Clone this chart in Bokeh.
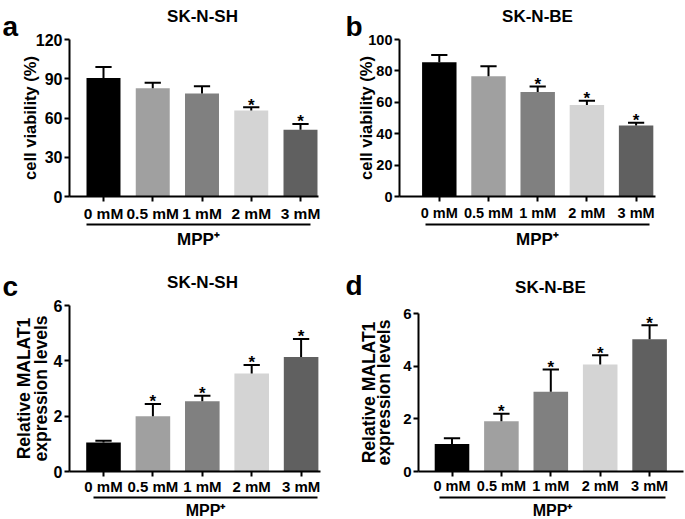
from bokeh.plotting import figure
from bokeh.models import Range1d, FixedTicker, LinearAxis, Label, ColumnDataSource
from bokeh.layouts import row, column
from bokeh.embed import file_html
from bokeh.resources import INLINE
from bokeh.core.properties import value

# ---------------- data ----------------
doses = ["0 mM", "0.5 mM", "1 mM", "2 mM", "3 mM"]
bar_colors = ["#000000", "#a0a0a0", "#808080", "#d4d4d4", "#606060"]
treatment_label = "MPP\u207a"

a_letter, a_title = "a", "SK-N-SH"
a_ylabel = ["cell viability (%)"]
a_mean = [90.5, 82.8, 78.7, 65.7, 51.0]
a_err = [8.5, 4.2, 5.6, 2.6, 4.5]
a_star = [False, False, False, True, True]
a_yticks = [0, 30, 60, 90, 120]
a_ymax = 120

b_letter, b_title = "b", "SK-N-BE"
b_ylabel = ["cell viability (%)"]
b_mean = [85.5, 76.6, 66.6, 58.3, 45.3]
b_err = [4.7, 6.4, 3.4, 2.7, 1.7]
b_star = [False, False, True, True, True]
b_yticks = [0, 20, 40, 60, 80, 100]
b_ymax = 100

c_letter, c_title = "c", "SK-N-SH"
c_ylabel = ["Relative MALAT1", "expression levels"]
c_mean = [1.05, 2.0, 2.54, 3.54, 4.14]
c_err = [0.06, 0.44, 0.2, 0.31, 0.65]
c_star = [False, True, True, True, True]
c_yticks = [0, 2, 4, 6]
c_ymax = 6

d_letter, d_title = "d", "SK-N-BE"
d_ylabel = ["Relative MALAT1", "expression levels"]
d_mean = [1.04, 1.91, 3.03, 4.06, 5.02]
d_err = [0.22, 0.28, 0.84, 0.35, 0.53]
d_star = [False, True, True, True, True]
d_yticks = [0, 2, 4, 6]
d_ymax = 6

FONT = "Liberation Sans"


def style_axis(ax, tick_font, tick_out=5):
    ax.major_tick_out = tick_out
    ax.major_tick_in = 0
    ax.minor_tick_out = 0
    ax.minor_tick_in = 0
    ax.minor_tick_line_color = None
    ax.major_tick_line_width = 2
    ax.major_tick_line_color = "black"
    ax.axis_line_width = 2
    ax.axis_line_color = "black"
    ax.major_label_text_font = FONT
    ax.major_label_text_font_style = "bold"
    ax.major_label_text_font_size = tick_font
    ax.major_label_text_color = "black"


def make_panel(letter, title, ylabels, means, errs, stars, yticks, ymax, g):
    w, h = g["w"], g["h"]
    kx, c0 = g["kx"], g["c0"]
    ky = (g["py0"] - g["pyt"]) / ymax

    def dx(px):
        return (px - c0) / kx

    def dy(py):
        return (g["py0"] - py) / ky

    p = figure(width=w, height=h, output_backend="svg", toolbar_location=None,
               x_range=Range1d(dx(0), dx(w)), y_range=Range1d(dy(h), dy(0)),
               min_border=0)
    p.outline_line_color = None
    p.grid.visible = False
    p.background_fill_color = "white"
    p.border_fill_color = "white"

    xs = list(range(len(doses)))
    hi = [m + e for m, e in zip(means, errs)]
    cap = 0.165
    src = ColumnDataSource(dict(x=xs, top=means, hi=hi, color=bar_colors,
                                xl=[x - cap for x in xs], xr=[x + cap for x in xs]))
    p.vbar(x="x", top="top", bottom=0, width=g["bw"], fill_color="color",
           line_color=None, source=src)
    p.segment(x0="x", y0="top", x1="x", y1="hi", line_color="black", line_width=2, source=src)
    p.segment(x0="xl", y0="hi", x1="xr", y1="hi", line_color="black", line_width=2, source=src)
    sx = [x for x, s in zip(xs, stars) if s]
    sy = [v for v, s in zip(hi, stars) if s]
    p.text(x=sx, y=sy, text=["*"] * len(sx), text_font=value(FONT),
           text_font_style=value("bold"), text_font_size=value("17px"),
           text_color="black", text_align="center", text_baseline="alphabetic",
           y_offset=-2)

    x_left, x_right = dx(g["axl"]), dx(g["axr"])

    # x axis with dose labels, fixed at y = 0
    xa = p.xaxis[0]
    xa.fixed_location = 0
    xa.bounds = (x_left, x_right)
    xa.ticker = FixedTicker(ticks=xs)
    xa.major_label_overrides = {i: d for i, d in enumerate(doses)}
    style_axis(xa, g["xf"])
    xa.major_label_standoff = g["xst"]

    # bracket axis carrying the treatment label
    ba = LinearAxis(fixed_location=dy(g["pbr"]), bounds=(dx(g["brl"]), dx(g["brr"])),
                    ticker=FixedTicker(ticks=[]), major_label_standoff=0,
                    axis_label=treatment_label, axis_label_text_font=FONT,
                    axis_label_text_font_style="bold", axis_label_text_font_size=g["mf"],
                    axis_label_text_color="black", axis_label_standoff=g["ms"])
    style_axis(ba, "1px", tick_out=0)
    ba.major_tick_line_color = None
    p.add_layout(ba, "below")

    # y axis, fixed at the left end of the x axis
    ya = p.yaxis[0]
    ya.fixed_location = x_left
    ya.bounds = (0, ymax)
    ya.ticker = FixedTicker(ticks=yticks)
    style_axis(ya, g["yf"])
    ya.major_label_standoff = 2
    ya.axis_label = ylabels[-1]
    ya.axis_label_text_font = FONT
    ya.axis_label_text_font_style = "bold"
    ya.axis_label_text_font_size = g["lf"]
    ya.axis_label_text_color = "black"
    ya.axis_label_standoff = g["s1"]
    if len(ylabels) > 1:
        oa = LinearAxis(fixed_location=x_left, bounds=(0, ymax),
                        ticker=FixedTicker(ticks=[]), major_label_standoff=0,
                        axis_label=ylabels[0], axis_label_text_font=FONT,
                        axis_label_text_font_style="bold", axis_label_text_font_size=g["lf"],
                        axis_label_text_color="black", axis_label_standoff=g["s2"])
        style_axis(oa, "1px", tick_out=0)
        oa.axis_line_color = None
        oa.major_tick_line_color = None
        p.add_layout(oa, "left")

    # panel title and panel letter
    p.add_layout(Label(x=g["tx"], y=h - g["tyb"], x_units="screen", y_units="screen",
                       text=title, text_font=FONT, text_font_style="bold",
                       text_font_size="17px", text_color="black", text_align="center",
                       text_baseline="alphabetic"))
    p.add_layout(Label(x=g["lx"], y=h - g["lyb"], x_units="screen", y_units="screen",
                       text=letter, text_font=FONT, text_font_style="bold",
                       text_font_size="28px", text_color="black", text_align="left",
                       text_baseline="alphabetic"))
    return p


ga = dict(w=340, h=260, c0=103, kx=49.25, axl=69, axr=318, py0=196, pyt=39,
          pbr=224, brl=86, brr=310, bw=0.69, tx=202, tyb=16, lx=2, lyb=26,
          xst=3, s1=-6, s2=0, xf="15.5px", yf="16px", lf="16.5px", mf="17px", ms=5)
gb = dict(w=345, h=260, c0=98.8, kx=49.2, axl=59, axr=315, py0=196, pyt=39,
          pbr=224, brl=85, brr=309, bw=0.70, tx=197, tyb=16, lx=5, lyb=26,
          xst=3, s1=-10, s2=0, xf="14.5px", yf="14.5px", lf="16.5px", mf="17px", ms=5)
gc = dict(w=340, h=259, c0=103, kx=49.4, axl=69, axr=320, py0=211, pyt=45,
          pbr=237, brl=93, brr=317, bw=0.70, tx=202, tyb=22, lx=2, lyb=26,
          xst=1, s1=0, s2=36, xf="15px", yf="16px", lf="17.5px", mf="16px", ms=4)
gd = dict(w=345, h=259, c0=111.5, kx=49.4, axl=78, axr=343, py0=211, pyt=53,
          pbr=237, brl=99, brr=325, bw=0.70, tx=210, tyb=27, lx=5, lyb=25,
          xst=1, s1=6, s2=40, xf="14.5px", yf="15px", lf="17.5px", mf="16px", ms=4)

pa = make_panel(a_letter, a_title, a_ylabel, a_mean, a_err, a_star, a_yticks, a_ymax, ga)
pb = make_panel(b_letter, b_title, b_ylabel, b_mean, b_err, b_star, b_yticks, b_ymax, gb)
pc = make_panel(c_letter, c_title, c_ylabel, c_mean, c_err, c_star, c_yticks, c_ymax, gc)
pd = make_panel(d_letter, d_title, d_ylabel, d_mean, d_err, d_star, d_yticks, d_ymax, gd)

layout = column(row(pa, pb), row(pc, pd))
open("out.html", "w").write(file_html(layout, INLINE))
